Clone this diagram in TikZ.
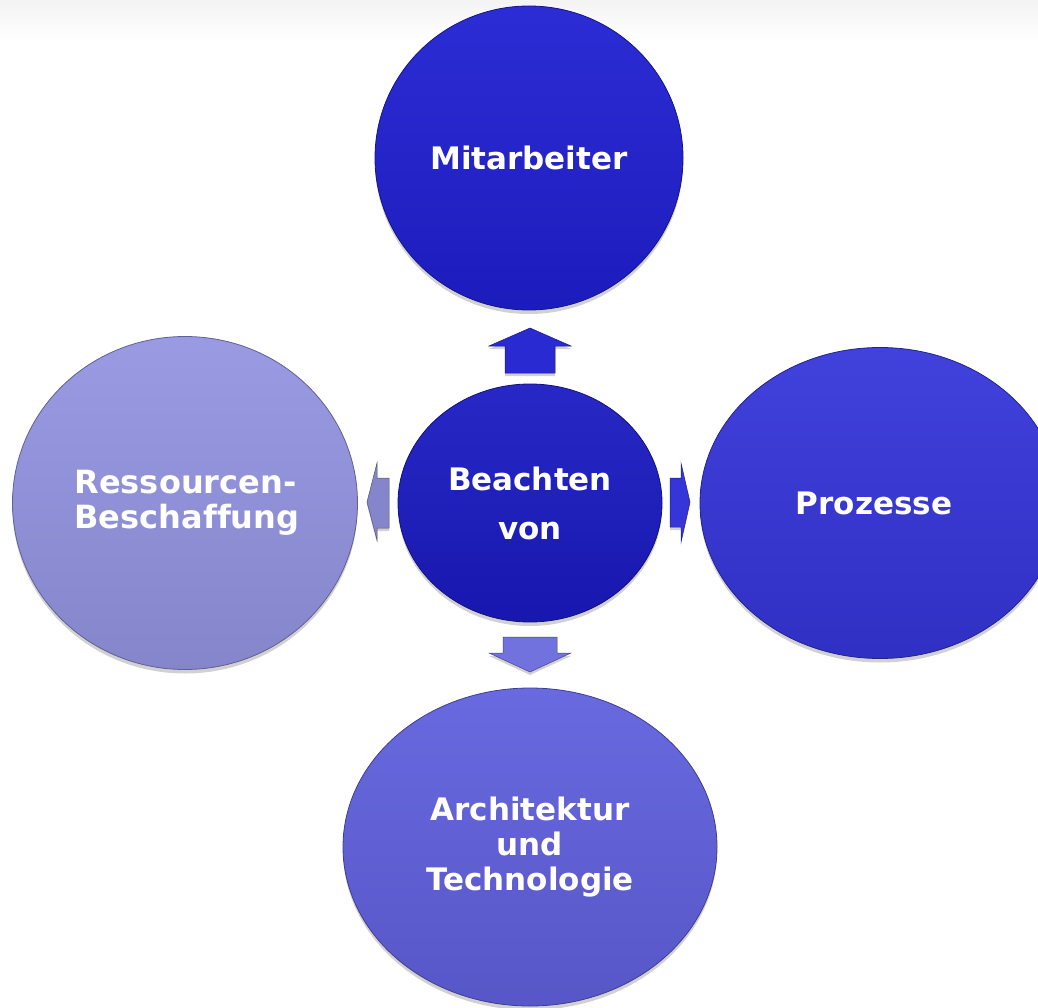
\documentclass[tikz,border=0pt]{standalone}
\usepackage{fontspec}
\setmainfont[Ligatures=NoCommon]{DejaVu Sans}
\usepackage{tikz}
\usetikzlibrary{shapes.geometric, shadows, calc, positioning}
\tikzset{>=stealth}
\usepackage{xcolor}
\definecolor{mitblue}{HTML}{1F1FD2}
\definecolor{midblue}{HTML}{1A1AC2}
\definecolor{problue}{HTML}{3535DA}
\definecolor{archblue}{HTML}{6060DE}
\definecolor{resblue}{HTML}{9494E2}
\definecolor{arrblue}{HTML}{2A2AD2}
\definecolor{arrlav}{HTML}{7272DE}

\tikzset{
	bubble/.style={ellipse, draw=#1!65!black, line width=0.8pt, text=white, align=center,
		font=\bfseries\fontsize{31}{35}\selectfont, inner sep=0pt,
		top color=#1!94!white, bottom color=#1!90!black,
		drop shadow={shadow xshift=0pt, shadow yshift=-4pt, opacity=0.18, fill=black}},
	blockarrow/.style={fill=#1, draw=#1!60!black, line width=0.5pt, line join=miter,
		drop shadow={shadow xshift=0pt, shadow yshift=-3pt, opacity=0.18, fill=black}}
}

\begin{document}
\begin{tikzpicture}[x=1pt, y=-1pt]
	\useasboundingbox (0,0) rectangle (1038,1008);
	\clip (0,0) rectangle (1038,1008);
	\shade [top color=gray!9, bottom color=white] (0,0) rectangle (1038,42);
	% circles
	\node [bubble=mitblue, minimum width=308pt, minimum height=304pt] (mit) at (529,158) {Mitarbeiter};
	\node [bubble=midblue, minimum width=264pt, minimum height=238pt, font=\bfseries\fontsize{31}{49}\selectfont] (bv) at (530,503) {Beachten\\von};
	\node [bubble=problue, minimum width=360pt, minimum height=311pt] (pro) at (880,503) {};
	\node [text=white, font=\bfseries\fontsize{31}{35}\selectfont] at ([xshift=-6pt]pro.center) {Prozesse};
	\node [bubble=archblue, minimum width=374pt, minimum height=318pt] (arch) at (530,847) {Architektur\\und\\Technologie};
	\node [bubble=resblue, minimum width=345pt, minimum height=333pt] (res) at (185,503) {};
	\node [text=white, align=left, font=\bfseries\fontsize{32}{35}\selectfont] at ([xshift=2pt]res.center) {Ressourcen-\\Beschaffung};
	% arrows
	\draw [blockarrow=arrblue] (505,373) -- (505,346) -- (489,346) -- (530,328) -- (571,346) -- (555,346) -- (555,373) -- cycle;
	\draw [blockarrow=arrlav] (503,637) -- (557,637) -- (557,653) -- (571,653) -- (530,672) -- (489,653) -- (503,653) -- cycle;
	\draw [blockarrow=resblue!90!black] (389,478) -- (377,478) -- (377,463) -- (367,502) -- (377,540) -- (377,528) -- (389,528) -- cycle;
	\draw [blockarrow=problue] (670,478) -- (681,478) -- (681,463) -- (690,502) -- (681,542) -- (681,527) -- (670,527) -- cycle;
\end{tikzpicture}
\end{document}
